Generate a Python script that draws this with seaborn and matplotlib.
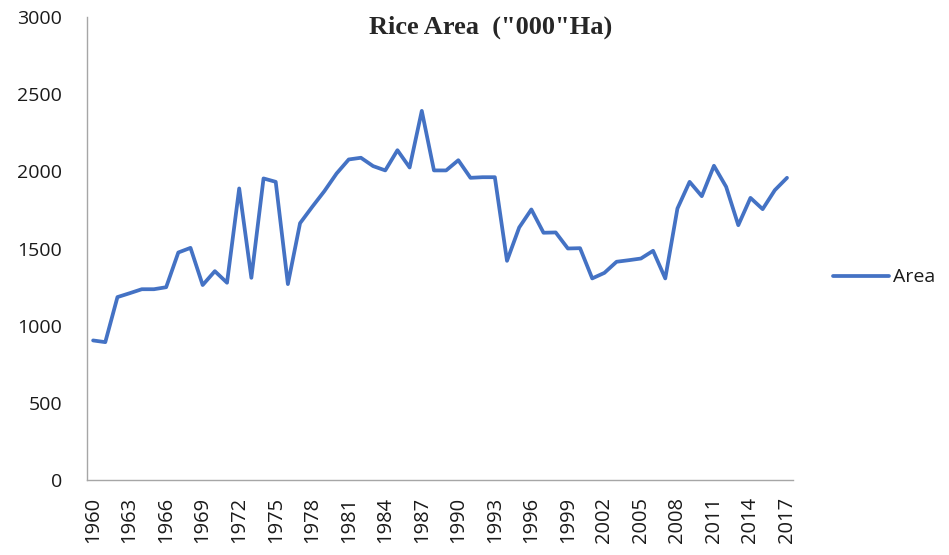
import numpy as np
import pandas as pd
import seaborn as sns
import matplotlib.pyplot as plt

years = list(range(1960, 2018))
area = [905, 894, 1186, 1211, 1237, 1237, 1250, 1475, 1505, 1264,
        1354, 1279, 1890, 1311, 1955, 1933, 1270, 1665, 1771, 1873,
        1987, 2078, 2089, 2035, 2007, 2138, 2026, 2393, 2007, 2007,
        2073, 1959, 1963, 1963, 1421, 1637, 1754, 1603, 1605, 1501,
        1503, 1307, 1343, 1415, 1425, 1436, 1486, 1307, 1760, 1933,
        1840, 2037, 1901, 1652, 1829, 1756, 1879, 1959]
y_ticks = [0, 500, 1000, 1500, 2000, 2500, 3000]
x_labels = list(range(1960, 2018, 3))

df = pd.DataFrame({'Year': years, 'Area': area})

sns.set_style('white')
plt.rcParams['font.family'] = ['Open Sans', 'DejaVu Sans']

fig = plt.figure(figsize=(9.49, 5.55), dpi=100)
ax = fig.add_axes([0.0917, 0.135, 0.744, 0.834])

sns.lineplot(data=df, x='Year', y='Area', color='#4472C4', linewidth=2.7,
             label='Area', ax=ax, legend=False)

ax.set_xlim(1959.5, 2017.5)
ax.set_ylim(0, 3000)
ax.set_yticks(y_ticks)
ax.set_xticks(x_labels)
ax.set_xticklabels([str(y) for y in x_labels], rotation=90, fontsize=14.5)
ax.set_xticks(np.arange(1959.5, 2018, 1), minor=True)
ax.tick_params(axis='x', which='major', length=0, pad=12, labelcolor='#1a1a1a')
ax.tick_params(axis='x', which='minor', length=5, color='#a6a6a6', direction='out')
ax.tick_params(axis='y', which='major', length=6, color='#a6a6a6', direction='out',
               labelsize=14, pad=12, labelcolor='#1a1a1a')
ax.set_xlabel('')
ax.set_ylabel('')

for s in ['top', 'right']:
    ax.spines[s].set_visible(False)
for s in ['left', 'bottom']:
    ax.spines[s].set_color('#a6a6a6')
    ax.spines[s].set_linewidth(1)

fig.text(0.517, 0.95, 'Rice Area  ("000"Ha)', ha='center', va='center',
         fontsize=19, fontweight='bold', family='Liberation Serif')

handles, labels = ax.get_legend_handles_labels()
if not handles:
    handles = ax.get_lines()[:1]
    labels = ['Area']
fig.legend(handles, labels, loc='center left', bbox_to_anchor=(0.878, 0.5),
           frameon=False, fontsize=14, handlelength=2.85, handletextpad=0.2,
           borderpad=0, borderaxespad=0, labelcolor='#1a1a1a')

fig.savefig('out.png', dpi=100)
